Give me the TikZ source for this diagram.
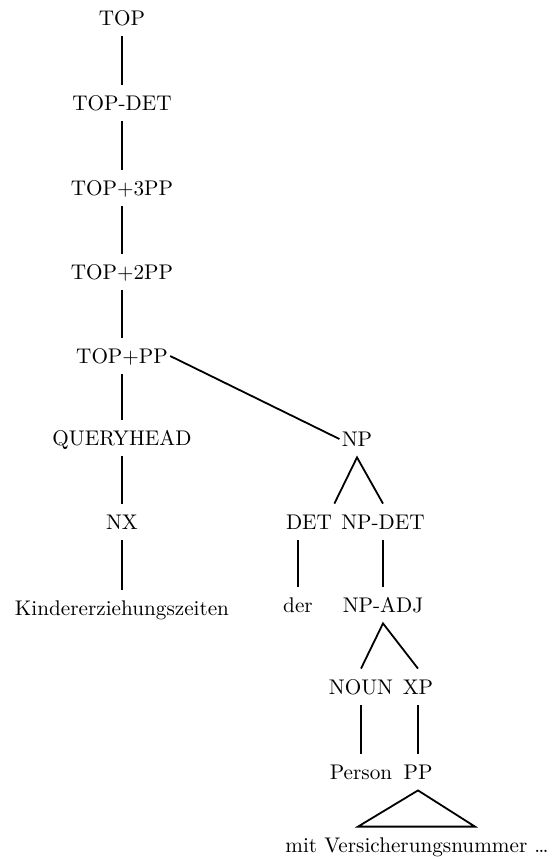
\documentclass[tikz,border=0pt]{standalone}
\usetikzlibrary{calc}
\tikzset{cat/.style={inner xsep=1pt,inner ysep=5.35pt,text height=7.3pt,text depth=0pt,
                     font=\fontsize{10.6}{12}\selectfont}, % tree labels
         branch/.style={line width=0.9pt}}                   % tree edges
\begin{document}
\begin{tikzpicture}[x=0.5pt,y=-0.5pt]
        \useasboundingbox (0,0) rectangle (556,859);

        \node[cat] (top)      at (122,18)  {TOP};
        \node[cat] (topdet)   at (122,103) {TOP-DET};
        \node[cat] (topthree) at (122,188) {TOP+3PP};
        \node[cat] (toptwo)   at (122,272) {TOP+2PP};
        \node[cat] (toppp)    at (122,356) {TOP+PP};
        \node[cat] (qhead)    at (122,438) {QUERYHEAD};
        \node[cat] (nx)       at (122,522) {NX};
        \node[cat] (kinder)   at (122,608) {Kindererziehungszeiten};

        \node[cat] (np)     at (357,439) {NP};
        \node[cat] (det)    at (309,522) {DET};
        \node[cat] (npdet)  at (383,522) {NP-DET};
        \node[cat] (der)    at (298,605) {der};
        \node[cat] (npadj)  at (383,605) {NP-ADJ};
        \node[cat] (noun)   at (361,687) {NOUN};
        \node[cat] (xp)     at (418,687) {XP};
        \node[cat] (person) at (361,772) {Person};
        \node[cat] (pp)     at (418,772) {PP};
        \node[cat] (mit)    at (417,845) {mit Versicherungsnummer \dots};

        \foreach \a/\b in {top/topdet,topdet/topthree,topthree/toptwo,toptwo/toppp,
                           toppp/qhead,qhead/nx,nx/kinder,npdet/npadj,noun/person,xp/pp}{
            \draw[branch] (\a) -- (\b);
        }
        \draw[branch] (toppp.east) -- (np.west);
        \draw[branch] (det.north east) -- (np.south) -- (npdet.north);
        \draw[branch] (der.north |- det.south) -- (der.north);
        \draw[branch] (noun.north) -- (npadj.south) -- (xp.north);

        \coordinate (bl) at ($ (mit.north) + (-59,0) $);
        \coordinate (br) at ($ (mit.north) + (58,0) $);
        \draw[branch] (pp.south) -- (bl) -- (br) -- cycle;
    \end{tikzpicture}
\end{document}
